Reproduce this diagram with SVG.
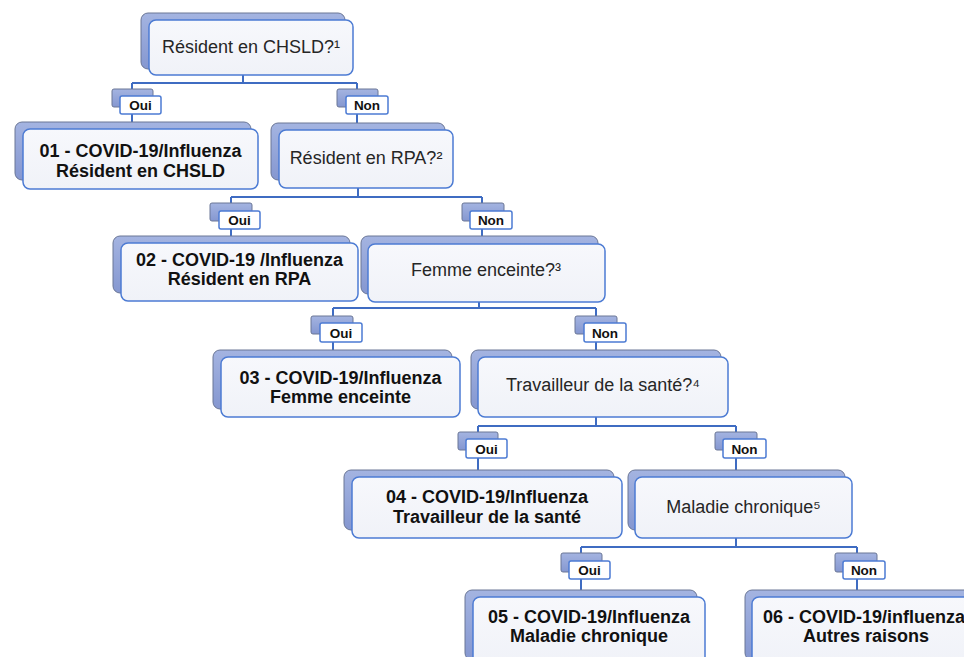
<svg xmlns="http://www.w3.org/2000/svg" width="964" height="657" viewBox="0 0 964 657">
<defs>
<linearGradient id="gBack" x1="0" y1="0" x2="0" y2="1">
<stop offset="0" stop-color="#A4B4E1"/>
<stop offset="1" stop-color="#8597D0"/>
</linearGradient>
<linearGradient id="gFront" x1="0" y1="0" x2="0" y2="1">
<stop offset="0" stop-color="#F7F8FC"/>
<stop offset="1" stop-color="#F0F2F8"/>
</linearGradient>
</defs>
<style>
.back{fill:url(#gBack);stroke:#6A7696;stroke-width:1}
.front{fill:url(#gFront);stroke:#4C7BD3;stroke-width:1.5}
.lback{fill:url(#gBack);stroke:#6A7696;stroke-width:1}
.lfront{fill:#FFFFFF;stroke:#4C7BD3;stroke-width:1.5}
.con{fill:none;stroke:#3F6CC2;stroke-width:2}
.q{font-family:"Liberation Sans",Arial,sans-serif;font-size:18px;fill:#262626;text-anchor:middle}
.r{font-family:"Liberation Sans",Arial,sans-serif;font-size:18px;font-weight:bold;fill:#111111;text-anchor:middle}
.l{font-family:"Liberation Sans",Arial,sans-serif;font-size:13.5px;font-weight:bold;fill:#111111;text-anchor:middle}
</style>
<rect width="964" height="657" fill="#FFFFFF"/>

<g id="connectors">
<path class="con" d="M243,75 V83 M132,83 H357 M132,83 V122 M357,83 V123"/>
<path class="con" d="M358,188 V197 M231,197 H482 M231,197 V236 M482,197 V236"/>
<path class="con" d="M479,301 V308 M333,308 H596 M333,308 V350 M596,308 V350"/>
<path class="con" d="M596,417 V426 M478,426 H736 M478,426 V470 M736,426 V470"/>
<path class="con" d="M736,538 V547 M581,547 H857 M581,547 V590 M857,547 V590"/>
</g>

<g id="label-oui-1"><rect class="lback" x="112" y="89" width="41" height="18" rx="2"/><rect class="lfront" x="120" y="96" width="41" height="18" rx="2"/><text class="l" x="140.5" y="110">Oui</text></g>
<g id="label-non-1"><rect class="lback" x="337" y="89" width="41" height="18" rx="2"/><rect class="lfront" x="346" y="96" width="42" height="18" rx="2"/><text class="l" x="367" y="110">Non</text></g>

<g id="label-oui-2"><rect class="lback" x="210" y="203" width="42" height="18" rx="2"/><rect class="lfront" x="219" y="211" width="41" height="18" rx="2"/><text class="l" x="239.5" y="225">Oui</text></g>
<g id="label-non-2"><rect class="lback" x="462" y="203" width="42" height="18" rx="2"/><rect class="lfront" x="470" y="211" width="42" height="18" rx="2"/><text class="l" x="491" y="225">Non</text></g>

<g id="label-oui-3"><rect class="lback" x="311" y="316" width="42" height="18" rx="2"/><rect class="lfront" x="320" y="323" width="42" height="19" rx="2"/><text class="l" x="341" y="337.5">Oui</text></g>
<g id="label-non-3"><rect class="lback" x="575" y="316" width="42" height="18" rx="2"/><rect class="lfront" x="584" y="323" width="42" height="19" rx="2"/><text class="l" x="605" y="337.5">Non</text></g>

<g id="label-oui-4"><rect class="lback" x="458" y="432" width="40" height="18" rx="2"/><rect class="lfront" x="466" y="439" width="41" height="19" rx="2"/><text class="l" x="486.5" y="453.5">Oui</text></g>
<g id="label-non-4"><rect class="lback" x="715" y="432" width="42" height="18" rx="2"/><rect class="lfront" x="723" y="439" width="43" height="19" rx="2"/><text class="l" x="744.5" y="453.5">Non</text></g>

<g id="label-oui-5"><rect class="lback" x="561" y="553" width="41" height="19" rx="2"/><rect class="lfront" x="569" y="561" width="41" height="18" rx="2"/><text class="l" x="589.5" y="575">Oui</text></g>
<g id="label-non-5"><rect class="lback" x="835" y="553" width="42" height="19" rx="2"/><rect class="lfront" x="843" y="561" width="42" height="18" rx="2"/><text class="l" x="864" y="575">Non</text></g>

<g id="q1-chsld"><rect class="back" x="141" y="13" width="204" height="56" rx="7"/><rect class="front" x="149" y="20" width="204" height="55" rx="7"/><text class="q" x="251" y="53">Résident en CHSLD?¹</text></g>

<g id="r01-chsld"><rect class="back" x="15" y="122" width="236" height="58" rx="7"/><rect class="front" x="23" y="129" width="235" height="60" rx="7"/><text class="r" x="140.5" y="157">01 - COVID-19/Influenza</text><text class="r" x="140.5" y="177">Résident en CHSLD</text></g>

<g id="q2-rpa"><rect class="back" x="271" y="123" width="174" height="57" rx="7"/><rect class="front" x="279" y="130" width="174" height="58" rx="7"/><text class="q" x="366" y="164">Résident en RPA?²</text></g>

<g id="r02-rpa"><rect class="back" x="113" y="236" width="237" height="57" rx="7"/><rect class="front" x="121" y="243" width="237" height="58" rx="7"/><text class="r" x="239.5" y="266">02 - COVID-19 /Influenza</text><text class="r" x="239.5" y="285">Résident en RPA</text></g>

<g id="q3-femme"><rect class="back" x="361" y="236" width="237" height="58" rx="7"/><rect class="front" x="368" y="244" width="237" height="58" rx="7"/><text class="q" x="486" y="276">Femme enceinte?³</text></g>

<g id="r03-femme"><rect class="back" x="213" y="350" width="239" height="59" rx="7"/><rect class="front" x="221" y="357" width="239" height="60" rx="7"/><text class="r" x="340.5" y="384">03 - COVID-19/Influenza</text><text class="r" x="340.5" y="403">Femme enceinte</text></g>

<g id="q4-travailleur"><rect class="back" x="471" y="350" width="250" height="59" rx="7"/><rect class="front" x="478" y="357" width="250" height="60" rx="7"/><text class="q" x="603" y="391">Travailleur de la santé?⁴</text></g>

<g id="r04-travailleur"><rect class="back" x="344" y="470" width="270" height="60" rx="7"/><rect class="front" x="352" y="477" width="270" height="61" rx="7"/><text class="r" x="487" y="503">04 - COVID-19/Influenza</text><text class="r" x="487" y="523">Travailleur de la santé</text></g>

<g id="q5-maladie"><rect class="back" x="628" y="470" width="217" height="60" rx="7"/><rect class="front" x="635" y="477" width="217" height="61" rx="7"/><text class="q" x="743.5" y="513">Maladie chronique⁵</text></g>

<g id="r05-maladie"><rect class="back" x="465" y="590" width="232" height="70" rx="7"/><rect class="front" x="473" y="597" width="232" height="70" rx="7"/><text class="r" x="589" y="623">05 - COVID-19/Influenza</text><text class="r" x="589" y="642">Maladie chronique</text></g>

<g id="r06-autres"><rect class="back" x="745" y="590" width="228" height="70" rx="7"/><rect class="front" x="752" y="597" width="228" height="70" rx="7"/><text class="r" x="864" y="623">06 - COVID-19/influenza</text><text class="r" x="866" y="642">Autres raisons</text></g>
</svg>
